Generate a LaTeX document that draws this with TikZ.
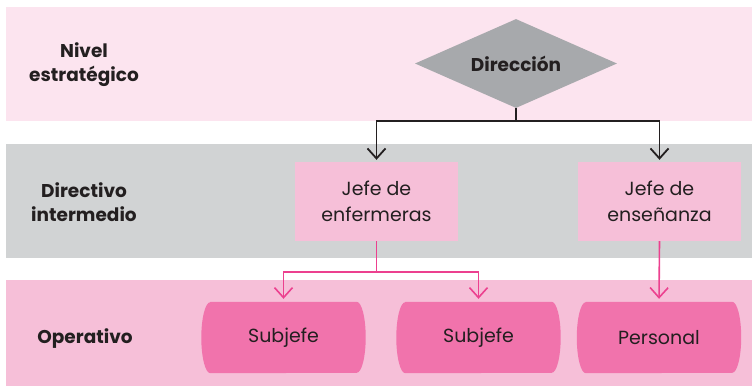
\documentclass[tikz,border=0pt]{standalone}
\usepackage{fontspec}
\setmainfont{Poppins}
\usetikzlibrary{shapes.geometric,arrows.meta,backgrounds}
\definecolor{bandA}{HTML}{FCE4EF}
\definecolor{bandB}{HTML}{D1D3D4}
\definecolor{bandC}{HTML}{F6BFD8}
\definecolor{dirgray}{HTML}{A7A9AC}
\definecolor{opfill}{HTML}{F173AC}
\definecolor{lnpink}{HTML}{EC408F}
\definecolor{ink}{HTML}{231F20}
\begin{document}
\begin{tikzpicture}[x=1pt,y=-1pt,
  lvl/.style={font=\fontsize{18.5}{24}\selectfont\bfseries,text=ink,align=center},
  jefe/.style={fill=bandC,minimum width=163pt,minimum height=79pt,inner sep=0pt,
    font=\fontsize{19}{26}\selectfont,text=ink,align=center},
  oper/.style={minimum width=164pt,minimum height=71pt,inner sep=0pt,
    font=\fontsize{19}{26}\selectfont,text=ink},
  blk/.style={draw=ink,line width=1.8pt,shorten >=2pt,-{Straight Barb[length=10pt,width=18pt]}},
  pnk/.style={draw=lnpink,line width=1.6pt,shorten >=3pt,-{Straight Barb[length=10pt,width=18pt]}}]
 \useasboundingbox (0,0) rectangle (752,386);
 \node[lvl] (nivel) at (84,65) {Nivel\\estratégico};
 \node[lvl] (direc) at (84,202) {Directivo\\intermedio};
 \node[lvl] (oper) at (85,339) {Operativo};
 \node[diamond,aspect=2.3,fill=dirgray,minimum width=202pt,minimum height=89pt,inner sep=0pt,
   font=\fontsize{18.5}{24}\selectfont\bfseries,text=ink] (dir) at (516,63.5) {Dirección};
 \node[jefe] (jenf) at (376.5,201.5) {Jefe de\\enfermeras};
 \node[jefe] (jens) at (659.5,201.5) {Jefe de\\enseñanza};
 \node[oper] (sub1) at (283.5,337.5) {Subjefe};
 \node[oper] (sub2) at (478.5,337.5) {Subjefe};
 \node[oper] (pers) at (659,337.5) {Personal};
 \begin{scope}[on background layer]
  \fill[bandA](6,7) rectangle (752,121);
  \fill[bandB](6,144) rectangle (752,258);
  \fill[bandC](6,280) rectangle (752,386);
  \foreach \n in {sub1,sub2,pers}
   \fill[opfill]([xshift=9pt]\n.north west) -- ([xshift=-9pt]\n.north east)
     arc[start angle=90,end angle=-90,x radius=9pt,y radius=35.5pt]
     -- ([xshift=9pt]\n.south west)
     arc[start angle=270,end angle=90,x radius=9pt,y radius=35.5pt] -- cycle;
 \end{scope}
 \draw[blk] (dir.south) -- ++(0,13) -| (jenf.north);
 \draw[blk] (dir.south) -- ++(0,13) -| (jens.north);
 \draw[pnk] (jenf.south) -- ++(0,31) -| (sub1.north);
 \draw[pnk] (jenf.south) -- ++(0,31) -| (sub2.north);
 \draw[pnk] (jens.south) -- (pers.north);
\end{tikzpicture}
\end{document}
